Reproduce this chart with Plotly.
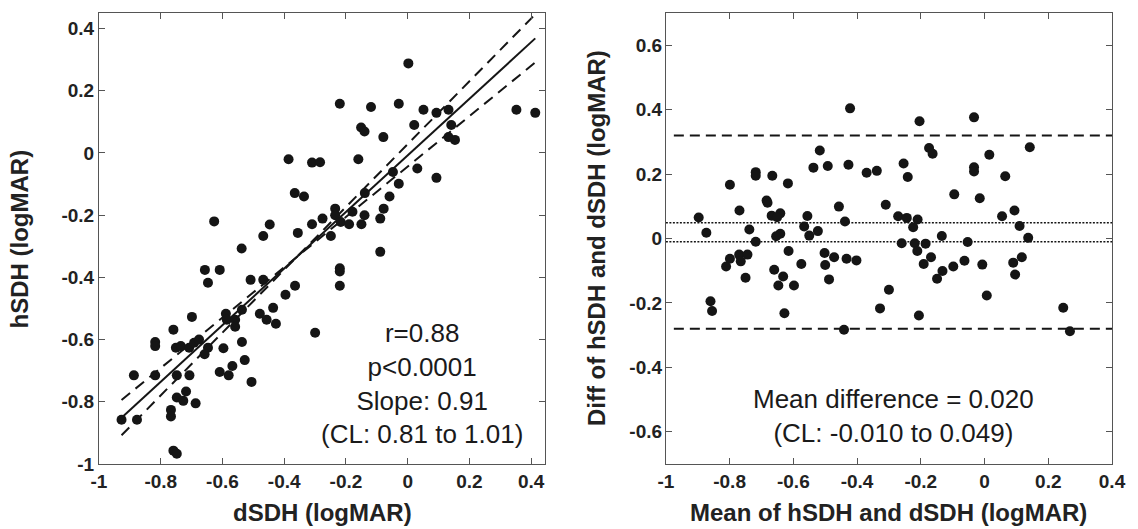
import plotly.graph_objects as go

# ---------------- data ----------------
# Left panel: dSDH (x) vs hSDH (y), logMAR
dsdh = [-0.386, -0.310, -0.284, -0.366, -0.336, -0.627, -0.447, -0.310, -0.468, -0.356,
        0.002, -0.220, -0.119, -0.029, 0.051, 0.093, 0.132, 0.352, 0.413, -0.151,
        -0.140, -0.079, 0.021, 0.141, 0.132, 0.153, -0.160, -0.048, 0.031, 0.093,
        -0.029, -0.139, -0.059, -0.078, -0.235, -0.179, -0.276, -0.235, -0.217, -0.190,
        -0.140, -0.150, -0.089, -0.249, -0.538, -0.657, -0.609, -0.647, -0.509, -0.468,
        -0.365, -0.396, -0.436, -0.589, -0.586, -0.559, -0.559, -0.537, -0.479, -0.457,
        -0.427, -0.699, -0.759, -0.818, -0.818, -0.751, -0.735, -0.708, -0.692, -0.676,
        -0.647, -0.658, -0.597, -0.537, -0.528, -0.568, -0.609, -0.580, -0.506, -0.887,
        -0.818, -0.748, -0.707, -0.748, -0.718, -0.727, -0.687, -0.767, -0.767, -0.927,
        -0.877, -0.759, -0.748, -0.089, -0.220, -0.220, -0.220, -0.300]
hsdh = [-0.020, -0.031, -0.030, -0.129, -0.140, -0.220, -0.230, -0.229, -0.267, -0.257,
        0.288, 0.158, 0.148, 0.158, 0.139, 0.129, 0.139, 0.139, 0.129, 0.082,
        0.069, 0.051, 0.090, 0.090, 0.051, 0.042, -0.020, -0.061, -0.050, -0.080,
        -0.099, -0.129, -0.140, -0.179, -0.179, -0.189, -0.211, -0.200, -0.222, -0.229,
        -0.200, -0.229, -0.211, -0.267, -0.307, -0.376, -0.376, -0.417, -0.408, -0.408,
        -0.427, -0.456, -0.498, -0.517, -0.536, -0.536, -0.559, -0.504, -0.517, -0.536,
        -0.549, -0.527, -0.568, -0.608, -0.621, -0.626, -0.621, -0.626, -0.610, -0.600,
        -0.626, -0.647, -0.628, -0.608, -0.666, -0.685, -0.704, -0.715, -0.736, -0.715,
        -0.715, -0.715, -0.715, -0.786, -0.767, -0.797, -0.805, -0.826, -0.847, -0.858,
        -0.858, -0.957, -0.967, -0.318, -0.371, -0.381, -0.427, -0.578]

# Right panel: Bland-Altman (mean vs difference), logMAR
ba_mean = [-0.422, -0.517, -0.537, -0.492, -0.427, -0.370, -0.338, -0.718, -0.718, -0.666,
           -0.617, -0.799, -0.684, -0.681, -0.769, -0.457, -0.310, -0.668, -0.641, -0.651,
           -0.556, -0.897, -0.438, -0.873, -0.738, -0.566, -0.523, -0.550, -0.641, -0.654,
           -0.718, -0.811, -0.799, -0.770, -0.765, -0.744, -0.750, -0.615, -0.660, -0.632,
           -0.647, -0.598, -0.575, -0.502, -0.500, -0.472, -0.488, -0.433, -0.402, -0.860,
           -0.855, -0.628, -0.441, -0.328, -0.300, -0.204, -0.033, -0.174, -0.163, 0.015,
           0.142, -0.254, -0.241, -0.033, -0.033, 0.065, -0.095, -0.015, -0.271, -0.244,
           -0.210, -0.224, 0.055, 0.094, 0.110, -0.134, 0.137, -0.260, -0.219, -0.185,
           -0.211, -0.053, -0.168, -0.191, -0.132, -0.149, -0.098, -0.063, -0.007, 0.007,
           0.090, 0.117, 0.096, -0.206, 0.247, 0.268]
ba_diff = [0.404, 0.273, 0.220, 0.225, 0.229, 0.204, 0.210, 0.206, 0.195, 0.195,
           0.171, 0.167, 0.118, 0.111, 0.087, 0.099, 0.105, 0.071, 0.078, 0.066,
           0.070, 0.065, 0.053, 0.018, 0.028, 0.037, 0.023, 0.009, 0.015, 0.007,
           -0.010, -0.087, -0.063, -0.050, -0.071, -0.050, -0.122, -0.039, -0.097, -0.118,
           -0.146, -0.146, -0.079, -0.045, -0.082, -0.058, -0.127, -0.063, -0.068, -0.195,
           -0.225, -0.232, -0.283, -0.217, -0.159, 0.364, 0.376, 0.281, 0.263, 0.260,
           0.283, 0.233, 0.191, 0.221, 0.208, 0.193, 0.137, 0.125, 0.069, 0.064,
           0.059, 0.035, 0.069, 0.087, 0.039, 0.008, 0.002, -0.015, -0.015, -0.016,
           -0.039, -0.011, -0.058, -0.079, -0.101, -0.125, -0.087, -0.069, -0.081, -0.177,
           -0.075, -0.058, -0.112, -0.239, -0.215, -0.288]

# regression statistics (left) and agreement statistics (right)
slope, slope_lo, slope_hi = 0.91, 0.81, 1.01
pivot_x, pivot_y = -0.36, -0.335
loa_upper, loa_lower = 0.32, -0.28
cl_upper, cl_lower = 0.049, -0.010

x_ticks = [-1, -0.8, -0.6, -0.4, -0.2, 0, 0.2, 0.4]
x_tick_text = ["-1", "-0.8", "-0.6", "-0.4", "-0.2", "0", "0.2", "0.4"]
right_y_ticks = [-0.6, -0.4, -0.2, 0, 0.2, 0.4, 0.6]
right_y_text = ["-0.6", "-0.4", "-0.2", "0", "0.2", "0.4", "0.6"]

left_note = "r=0.88<br>p<0.0001<br>Slope: 0.91<br>(CL: 0.81 to 1.01)"
right_note = "Mean difference = 0.020<br>(CL: -0.010 to 0.049)"

# ---------------- figure ----------------
FONT = "Liberation Sans, Arial, Helvetica, sans-serif"
INK = "#151515"
FRAME = "#555555"

fig = go.Figure()

x0, x1 = min(dsdh), max(dsdh)


def reg_line(s):
    return [pivot_y + s * (x0 - pivot_x), pivot_y + s * (x1 - pivot_x)]


for s in (slope_hi, slope_lo):
    fig.add_trace(go.Scatter(x=[x0, x1], y=reg_line(s), mode="lines",
                             line=dict(color=INK, width=2, dash="11px,7px"),
                             xaxis="x", yaxis="y", hoverinfo="skip"))
fig.add_trace(go.Scatter(x=[x0, x1], y=reg_line(slope), mode="lines",
                         line=dict(color=INK, width=2),
                         xaxis="x", yaxis="y", hoverinfo="skip"))
fig.add_trace(go.Scatter(x=dsdh, y=hsdh, mode="markers",
                         marker=dict(color=INK, size=10, line=dict(width=0)),
                         xaxis="x", yaxis="y"))

# right panel reference lines
for v in (loa_upper, loa_lower):
    fig.add_trace(go.Scatter(x=[-0.975, 0.4], y=[v, v], mode="lines",
                             line=dict(color=INK, width=2, dash="10px,6px"),
                             xaxis="x2", yaxis="y2", hoverinfo="skip"))
for v in (cl_upper, cl_lower):
    fig.add_trace(go.Scatter(x=[-1, 0.4], y=[v, v], mode="lines",
                             line=dict(color=INK, width=1.6, dash="2px,1.5px"),
                             xaxis="x2", yaxis="y2", hoverinfo="skip"))
fig.add_trace(go.Scatter(x=ba_mean, y=ba_diff, mode="markers",
                         marker=dict(color=INK, size=10, line=dict(width=0)),
                         xaxis="x2", yaxis="y2"))

axis_style = dict(showline=True, linecolor=FRAME, linewidth=1, mirror="ticks",
                  ticks="inside", ticklen=6, tickcolor=FRAME, tickwidth=1,
                  showgrid=False, zeroline=False,
                  tickfont=dict(family=FONT, size=19, color="#222", weight="bold"))

fig.update_layout(
    width=1138, height=529,
    margin=dict(l=99, r=15, t=12, b=65),
    paper_bgcolor="white", plot_bgcolor="white",
    showlegend=False,
    xaxis=dict(domain=[0, 0.4404], range=[-1, 0.445], tickvals=x_ticks,
               ticktext=x_tick_text, ticklabelstandoff=0, anchor="y", **axis_style),
    yaxis=dict(domain=[0, 1], range=[-1, 0.45], tickvals=x_ticks,
               ticktext=x_tick_text, ticklabelstandoff=0, anchor="x", **axis_style),
    xaxis2=dict(domain=[0.5596, 1], range=[-1, 0.4], tickvals=x_ticks,
                ticktext=x_tick_text, ticklabelstandoff=0, anchor="y2", **axis_style),
    yaxis2=dict(domain=[0, 1], range=[-0.7, 0.7], tickvals=right_y_ticks,
                ticktext=right_y_text, ticklabelstandoff=-1, anchor="x2", **axis_style),
)

title_font = dict(family=FONT, size=24, color="#222", weight="bold")
note_font = dict(family=FONT, size=26, color="#1a1a1a")

fig.add_annotation(text="dSDH (logMAR)", xref="paper", yref="paper",
                   x=0.2202, y=-0.108, xanchor="center", yanchor="middle",
                   showarrow=False, font=title_font)
fig.add_annotation(text="Mean of hSDH and dSDH (logMAR)", xref="paper", yref="paper",
                   x=0.7798, y=-0.108, xanchor="center", yanchor="middle",
                   showarrow=False, font=title_font)
fig.add_annotation(text="hSDH (logMAR)", xref="paper", yref="paper",
                   x=-0.078, y=0.5, xanchor="center", yanchor="middle", textangle=-90,
                   showarrow=False, font=title_font)
fig.add_annotation(text="Diff of hSDH and dSDH (logMAR)", xref="paper", yref="paper",
                   x=0.4912, y=0.5, xanchor="center", yanchor="middle", textangle=-90,
                   showarrow=False, font=title_font)

fig.add_annotation(text=left_note, xref="x", yref="y", x=0.047, y=-0.742,
                   xanchor="center", yanchor="middle", align="center",
                   showarrow=False, font=note_font)
fig.add_annotation(text=right_note, xref="x2", yref="y2", x=-0.286, y=-0.55,
                   xanchor="center", yanchor="middle", align="center",
                   showarrow=False, font=note_font)

fig.write_html("out.html")
